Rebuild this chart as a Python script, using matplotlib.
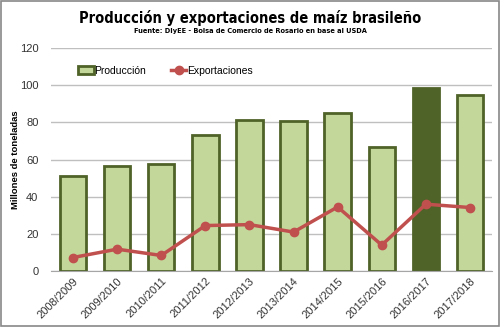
import numpy as np
from matplotlib import pyplot as plt
from matplotlib.patches import Rectangle

plt.rcParams['font.family'] = ['Liberation Sans', 'DejaVu Sans']

campanas = ["2008/2009", "2009/2010", "2010/2011", "2011/2012", "2012/2013",
            "2013/2014", "2014/2015", "2015/2016", "2016/2017", "2017/2018"]
produccion = [51.2, 56.4, 57.8, 73.0, 81.5, 80.5, 85.3, 67.0, 98.7, 95.0]
exportaciones = [7.3, 11.8, 8.4, 24.5, 25.0, 21.0, 34.5, 14.0, 36.0, 34.2]
destacado = "2016/2017"

verde_claro = "#C4D79B"
verde_osc = "#4F6228"
rojo = "#C0504D"

fig = plt.figure(figsize=(5, 3.27), dpi=100)
fig.patches.append(Rectangle((0.002, 0.003), 0.995, 0.994, transform=fig.transFigure,
                             fill=False, edgecolor="#888888", linewidth=1.2))

ax = fig.add_axes([0.102, 0.171, 0.882, 0.682])
x = np.arange(len(campanas))
colores = [verde_osc if c == destacado else verde_claro for c in campanas]
barras = ax.bar(x, produccion, width=0.6, color=colores, edgecolor=verde_osc, linewidth=2,
                zorder=2)
linea, = ax.plot(x, exportaciones, color=rojo, linewidth=2.5, marker="o", markersize=6,
                 zorder=3)

ax.set_xlim(-0.5, len(campanas) - 0.5)
ax.set_ylim(0, 120)
ax.set_yticks(range(0, 121, 20))
ax.yaxis.grid(True, color="#BFBFBF", linewidth=1, zorder=0)
ax.set_axisbelow(True)
for s in ["top", "right", "left"]:
    ax.spines[s].set_visible(False)
ax.spines["bottom"].set_color("#A6A6A6")
ax.tick_params(axis="both", length=0, labelsize=8, colors="#333333")
ax.tick_params(axis="y", pad=9)
ax.set_xticks(x)
ax.set_xticklabels(campanas, rotation=45, ha="right", rotation_mode="anchor")
ax.set_ylabel("Millones de toneladas", fontsize=6.8, fontweight="bold")
ax.yaxis.set_label_coords(-0.07, 0.5)

ax.legend([barras[0], linea], ["Producción", "Exportaciones"], loc="upper left",
          bbox_to_anchor=(0.041, 0.963), ncol=2, frameon=False, fontsize=7.5,
          handlelength=1.45, handletextpad=0.1, columnspacing=2.4)

fig.text(0.5, 0.946, "Producción y exportaciones de maíz brasileño", ha="center",
         va="center", fontsize=10.5, fontweight="bold", fontstretch="condensed",
         family=["DejaVu Sans"])
fig.text(0.5, 0.905, "Fuente: DIyEE - Bolsa de Comercio de Rosario en base al USDA",
         ha="center", va="center", fontsize=5.3, fontweight="bold",
         fontstretch="condensed", family=["DejaVu Sans"])

fig.savefig("out.png", dpi=100)
